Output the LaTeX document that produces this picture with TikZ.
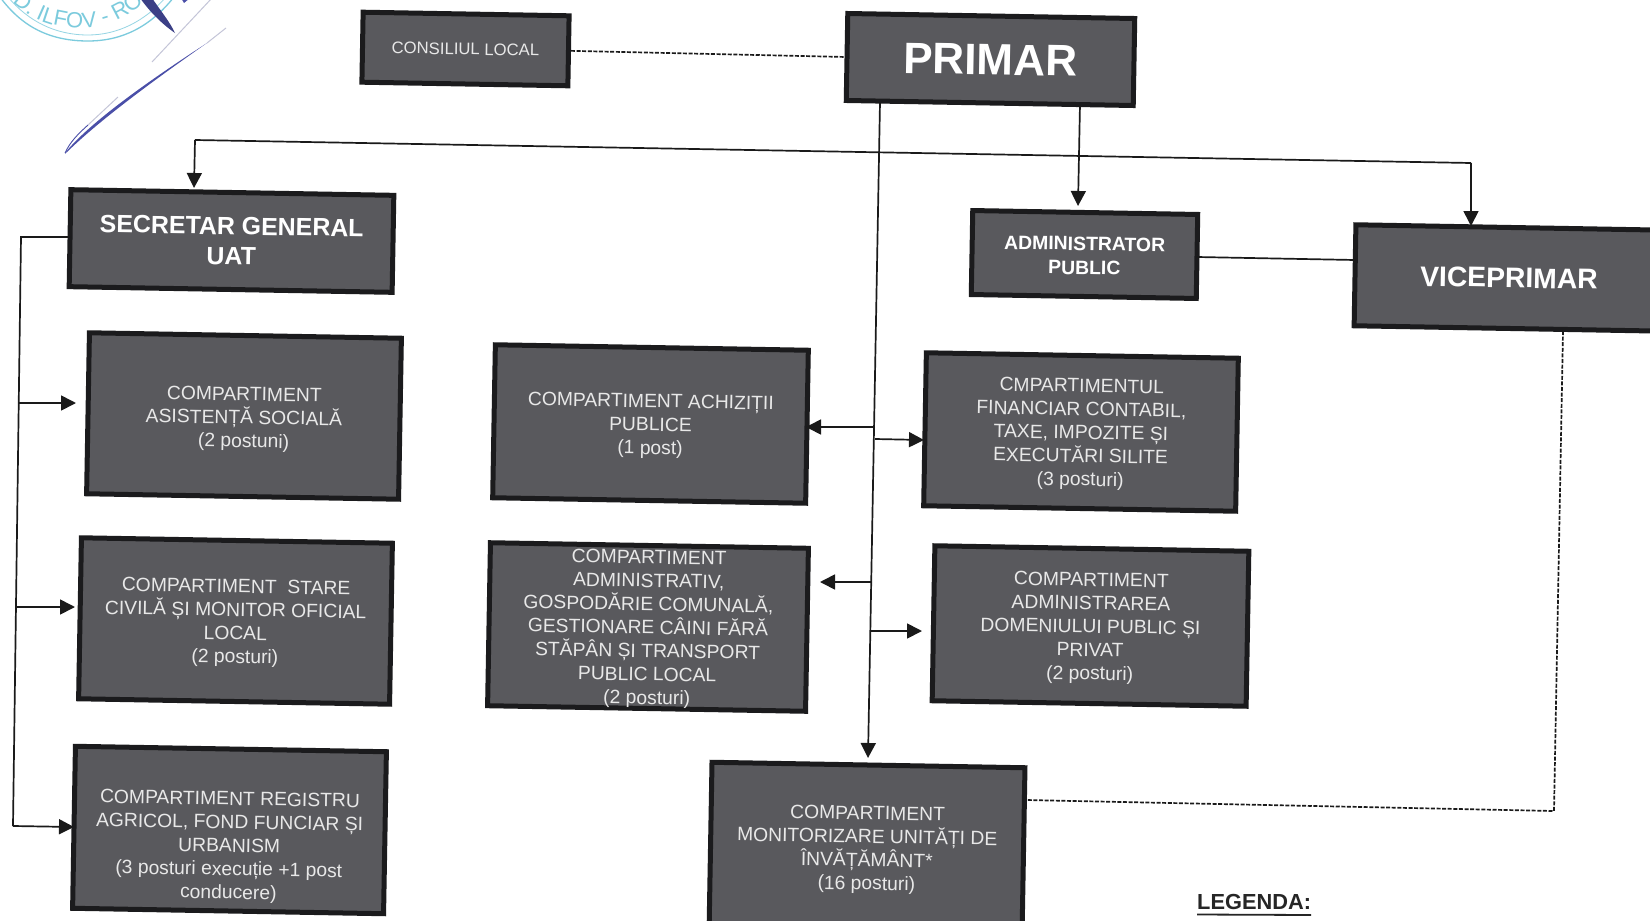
\documentclass[tikz,border=0pt]{standalone}
\usepackage{fontspec}
\setmainfont{Liberation Sans}
\usetikzlibrary{arrows.meta,decorations.text}
\definecolor{boxfill}{HTML}{59595D}
\definecolor{boxline}{HTML}{1B1B1D}
\definecolor{boxtext}{HTML}{E8E8E8}
\definecolor{stampc}{HTML}{7CCBDD}
\definecolor{penc}{HTML}{4A4FA8}
\definecolor{penfade}{HTML}{C4C5D8}
\definecolor{wire}{HTML}{1A1A1A}
\newcommand{\nudge}[1]{\rule{0pt}{\dimexpr 14pt+#1pt+#1pt\relax}}
\tikzset{
  x=1pt,y=-1pt,
  orgbox/.style={draw=boxline,fill=boxfill,line width=5pt,rotate=-1,inner sep=0pt,
    text=boxtext,align=center,font=\fontsize{19.3}{23.4}\selectfont},
  headbox/.style={orgbox,text=white,font=\fontsize{19.4}{24}\selectfont\bfseries},
  wire/.style={draw=wire,line width=1.7pt},
  dashwire/.style={draw=wire,line width=1.7pt,dash pattern=on 4pt off 1.6pt},
  arrowwire/.style={wire,-{Triangle[length=15pt,width=15pt]}}
}
\begin{document}
\begin{tikzpicture}
\useasboundingbox (0,0) rectangle (1650,921);
\clip (0,0) rectangle (1650,921);
\fill[white] (0,0) rectangle (1650,921);

% stamp
\draw[stampc,line width=1.3pt] (0,-3) .. controls (22,27) and (50,41) .. (88,41) .. controls (122,41) and (150,27) .. (174,-3);
\draw[stampc!80,line width=0.8pt] (8,-3) .. controls (28,21) and (55,35) .. (88,35) .. controls (118,35) and (145,21) .. (166,-3);
\path[decorate,decoration={text along path,text align=center,
  text={|\fontsize{22}{22}\selectfont\color{stampc}|D. ILFOV - RO}}]
  (3,-7) .. controls (42,39.7) and (114,39.7) .. (153,-7);

% signature
\fill[penc] (65,153) .. controls (90,122) and (150,80) .. (207,43) .. controls (150,83) and (100,120) .. (67,152) .. controls (66,154) and (64,154) .. (65,153) -- cycle;
\draw[penc,line width=0.9pt] (65,153) .. controls (70,142) and (78,134) .. (88,125);
\draw[penfade,line width=1pt] (88,125) -- (118,97);
\draw[penfade,line width=1pt] (207,43) -- (226,28);
\draw[penfade,line width=1pt] (152,62) -- (212,-2);
\fill[penc!80!black] (140,-2) -- (152,-2) .. controls (160,10) and (170,22) .. (175,33) .. controls (162,24) and (150,12) .. (140,-2) -- cycle;
\fill[penc] (181,-2) -- (190,-2) -- (184,3) -- cycle;

% boxes
\node[orgbox,minimum width=206pt,minimum height=70pt,font=\fontsize{16.7}{20}\selectfont] (cons) at (465.5,49) {CONSILIUL LOCAL};
\node[orgbox,text=white,minimum width=287pt,minimum height=87pt,font=\fontsize{44}{48}\selectfont\bfseries] (prim) at (990.5,59.5) {PRIMAR};
\node[orgbox,text=white,minimum width=323pt,minimum height=97pt,font=\fontsize{24.9}{30}\selectfont\bfseries] (sec) at (231.5,241) {\nudge{1}SECRETAR GENERAL\\UAT};
\node[headbox,minimum width=225pt,minimum height=84pt] (adm) at (1084.5,254.5) {\nudge{1}ADMINISTRATOR\\PUBLIC};
\node[orgbox,text=white,minimum width=312pt,minimum height=101pt,font=\fontsize{28.3}{34}\selectfont\bfseries] (vice) at (1511,278) {\nudge{2}VICEPRIMAR\hspace*{4pt}};
\node[orgbox,minimum width=312pt,minimum height=161pt] (asis) at (244,416) {\nudge{3}COMPARTIMENT\\ASISTENȚĂ SOCIALĂ\\(2 postuni)};
\node[orgbox,minimum width=311pt,minimum height=161pt] (stare) at (235.5,621) {\nudge{2}COMPARTIMENT\ \ STARE\\CIVILĂ ȘI MONITOR OFICIAL\\LOCAL\\(2 posturi)};
\node[orgbox,minimum width=311pt,minimum height=162pt] (reg) at (229.5,830) {\nudge{17}COMPARTIMENT REGISTRU\\AGRICOL, FOND FUNCIAR ȘI\\URBANISM\\(3 posturi execuție +1 post\\conducere)};
\node[orgbox,minimum width=313pt,minimum height=153pt] (achi) at (650.5,424) {\nudge{2}COMPARTIMENT ACHIZIȚII\\PUBLICE\\(1 post)};
\node[orgbox,minimum width=318pt,minimum height=163pt] (gosp) at (648,627) {\nudge{2}COMPARTIMENT\\ADMINISTRATIV,\\GOSPODĂRIE COMUNALĂ,\\GESTIONARE CÂINI FĂRĂ\\STĂPÂN ȘI TRANSPORT\\PUBLIC LOCAL\\(2 posturi)};
\node[orgbox,minimum width=312pt,minimum height=153pt] (fin) at (1081,432) {\nudge{2}CMPARTIMENTUL\\FINANCIAR CONTABIL,\\TAXE, IMPOZITE ȘI\\EXECUTĂRI SILITE\\(3 posturi)};
\node[orgbox,minimum width=314pt,minimum height=155pt] (dom) at (1090.5,626) {\nudge{2}COMPARTIMENT\\ADMINISTRAREA\\DOMENIULUI PUBLIC ȘI\\PRIVAT\\(2 posturi)};
\node[orgbox,minimum width=313pt,minimum height=170pt] (mon) at (867,850) {COMPARTIMENT\\MONITORIZARE UNITĂȚI DE\\ÎNVĂȚĂMÂNT*\\(16 posturi)};

% legend
\node[anchor=west,inner sep=0pt,font=\fontsize{21.8}{24}\selectfont\bfseries,text=black!85] (leg) at (1197,902) {LEGENDA:};
\coordinate (legl) at (1197,914.5);
\coordinate (legr) at (1311,915);
\draw[black!85,line width=1.8pt] (legl) -- (legr);

% junction coordinates
\coordinate (ptop) at (880,102);
\coordinate (mainend) at (868,758);
\coordinate (hl) at (195,140);
\coordinate (hr) at (1471,163);
\coordinate (sectip) at (194,188);
\coordinate (vicetip) at (1471,226);
\coordinate (admtop) at (1080,104);
\coordinate (admtip) at (1078,206);
\coordinate (admr) at (1197,257);
\coordinate (vicel) at (1355,260);
\coordinate (vcorner) at (1554,811);
\coordinate (vtop) at (1563,331);
\coordinate (mright) at (1026,800);
\coordinate (secl) at (21,237);
\coordinate (secb) at (13,826);
\coordinate (secs) at (70,237);
\coordinate (ar1a) at (18,403);
\coordinate (ar1b) at (76,403);
\coordinate (ar2a) at (16,607);
\coordinate (ar2b) at (75,607);
\coordinate (ar3b) at (74,827);
\coordinate (m1) at (875,427);
\coordinate (m1t) at (806,427);
\coordinate (m2) at (875,439);
\coordinate (m2t) at (924,440);
\coordinate (m3) at (872,582);
\coordinate (m3t) at (820,582);
\coordinate (m4) at (871,631);
\coordinate (m4t) at (922,631);

% connectors
\draw[dashwire] (cons.east) -- (prim.west);
\draw[arrowwire] (ptop) -- (mainend);
\draw[wire] (hl) -- (hr);
\draw[arrowwire] (hl) -- (sectip);
\draw[arrowwire] (hr) -- (vicetip);
\draw[arrowwire] (admtop) -- (admtip);
\draw[wire] (admr) -- (vicel);
\draw[dashwire] (vtop) -- (vcorner) -- (mright);
\draw[wire] (secs) -- (secl) -- (secb);
\draw[arrowwire] (secb) -- (ar3b);
\draw[arrowwire] (ar1a) -- (ar1b);
\draw[arrowwire] (ar2a) -- (ar2b);
\draw[arrowwire] (m1) -- (m1t);
\draw[arrowwire] (m2) -- (m2t);
\draw[arrowwire] (m3) -- (m3t);
\draw[arrowwire] (m4) -- (m4t);
\end{tikzpicture}
\end{document}
